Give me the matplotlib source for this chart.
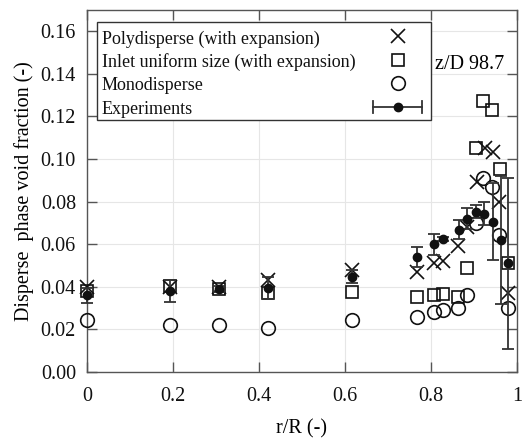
import matplotlib
matplotlib.use("Agg")
import matplotlib.pyplot as plt
from matplotlib.lines import Line2D
from matplotlib.patches import Rectangle

plt.rcParams['font.family'] = ['Liberation Serif', 'DejaVu Serif']

# Polydisperse model (with expansion)
r_poly = [0.0, 0.193, 0.307, 0.421, 0.616, 0.767, 0.807, 0.828, 0.863, 0.884,
          0.907, 0.926, 0.944, 0.957, 0.979]
alpha_poly = [0.040, 0.040, 0.040, 0.043, 0.048, 0.047, 0.051, 0.052, 0.059, 0.068,
              0.089, 0.105, 0.1035, 0.080, 0.037]

# Inlet uniform size (with expansion)
r_uni = [0.0, 0.193, 0.307, 0.421, 0.616, 0.767, 0.807, 0.828, 0.863, 0.884,
         0.905, 0.921, 0.942, 0.960, 0.979]
alpha_uni = [0.038, 0.0405, 0.039, 0.037, 0.0376, 0.0353, 0.036, 0.0367, 0.035, 0.049,
             0.105, 0.1275, 0.123, 0.0955, 0.051]

# Monodisperse model
r_mono = [0.0, 0.193, 0.307, 0.421, 0.616, 0.767, 0.807, 0.828, 0.863, 0.884,
          0.905, 0.921, 0.942, 0.958, 0.979]
alpha_mono = [0.0245, 0.022, 0.022, 0.0207, 0.0245, 0.026, 0.028, 0.029, 0.030, 0.036,
              0.070, 0.091, 0.087, 0.0645, 0.030]

# Experimental data with uncertainty
r_exp = [0.0, 0.193, 0.307, 0.421, 0.616, 0.767, 0.807, 0.828, 0.865, 0.884,
         0.905, 0.923, 0.944, 0.963, 0.979]
alpha_exp = [0.036, 0.038, 0.039, 0.0395, 0.0447, 0.054, 0.060, 0.0626, 0.0668, 0.072,
             0.0753, 0.0743, 0.0706, 0.062, 0.051]
err_exp = [0.0035, 0.005, 0.0015, 0.005, 0.003, 0.0045, 0.005, 0.001, 0.0045, 0.005,
           0.003, 0.0055, 0.018, 0.030, 0.040]

x_ticks = [0, 0.2, 0.4, 0.6, 0.8, 1]
x_ticklabels = ["0", "0.2", "0.4", "0.6", "0.8", "1"]
y_ticks = [0.00, 0.02, 0.04, 0.06, 0.08, 0.10, 0.12, 0.14, 0.16]

label_poly = "Polydisperse (with expansion)"
label_uni = "Inlet uniform size (with expansion)"
label_mono = "Monodisperse"
label_exp = "Experiments"
station_text = "z/D 98.7"

INK = '#111111'
BAR = '#333333'
FS = 14.5
LEG_FS = 13

W_PX, H_PX = 522, 446
AX_L, AX_R, AX_T, AX_B = 87, 517, 10, 372   # axes frame in pixels

fig = plt.figure(figsize=(W_PX / 100, H_PX / 100), dpi=100)
ax = fig.add_axes([AX_L / W_PX, 1 - AX_B / H_PX,
                   (AX_R - AX_L) / W_PX, (AX_B - AX_T) / H_PX])

ax.grid(True, color='#e6e6e6', lw=0.8, zorder=0)
ax.set_axisbelow(True)

cross_style = dict(ls='none', marker='x', ms=9.5, mew=1.2, color=INK)
square_style = dict(ls='none', marker='s', ms=9.2, mew=1.2, mfc='none', mec=INK)
circle_style = dict(ls='none', marker='o', ms=9.8, mew=1.2, mfc='none', mec=INK)
dot_style = dict(ls='none', marker='o', ms=6, color=INK)

ax.plot(r_poly, alpha_poly, clip_on=False, zorder=3, **cross_style)
ax.plot(r_uni, alpha_uni, clip_on=False, zorder=3, **square_style)
ax.plot(r_mono, alpha_mono, clip_on=False, zorder=3, **circle_style)
eb = ax.errorbar(r_exp, alpha_exp, yerr=err_exp, fmt='o', ms=6, color=INK,
                 ecolor=BAR, elinewidth=1.3, capsize=4, capthick=1.3,
                 clip_on=False, zorder=4)
for art in eb.lines[1] + eb.lines[2]:
    art.set_clip_on(False)

ax.set_xlim(0, 1)
ax.set_ylim(0, 0.17)
ax.set_xticks(x_ticks)
ax.set_xticklabels(x_ticklabels)
ax.set_yticks(y_ticks)
ax.set_yticklabels([f"{v:.2f}" for v in y_ticks])

ax.tick_params(direction='in', length=7, width=1, color='#555555',
               top=True, right=True, labelsize=FS, labelcolor='#111111')
ax.tick_params(axis='x', pad=11)
ax.tick_params(axis='y', pad=8)
for s in ax.spines.values():
    s.set_color('#555555')
    s.set_linewidth(1)

ax.set_xlabel("r/R (-)", fontsize=FS, labelpad=9)
ax.set_ylabel("Disperse  phase void fraction (-)", fontsize=FS, labelpad=5)

ax.text(0.81, 0.1445, station_text, fontsize=FS, va='center', ha='left')


# ---- legend box: labels left-justified, samples in a right-hand column ----
def fx(px):
    return (px - AX_L) / (AX_R - AX_L)


def fy(py):
    return (AX_B - py) / (AX_B - AX_T)


T = ax.transAxes
box_l, box_r, box_t, box_b = 97, 431, 22, 120
ax.add_patch(Rectangle((fx(box_l), fy(box_b)), fx(box_r) - fx(box_l),
                       fy(box_t) - fy(box_b), transform=T, facecolor='white',
                       edgecolor='#333333', lw=1, zorder=5, clip_on=False))

labels = [label_poly, label_uni, label_mono, label_exp]
baselines = [43.5, 67, 90.5, 114]
text_x = 102
sample_x = 398
sample_dy = 7.5

for lab, base in zip(labels, baselines):
    ax.text(fx(text_x), fy(base), lab, transform=T, fontsize=LEG_FS,
            ha='left', va='baseline', color='#111111', zorder=6)

for style, base in zip([cross_style, square_style, circle_style],
                       baselines[:3]):
    ax.add_line(Line2D([fx(sample_x)], [fy(base - sample_dy)], transform=T,
                       zorder=6, clip_on=False, **style))

# errorbar sample |--o--|
ey = base_e = baselines[3] - sample_dy
e_l, e_r, cap = 373, 422, 6
ax.add_line(Line2D([fx(e_l), fx(e_r)], [fy(ey), fy(ey)], transform=T,
                   color=BAR, lw=1.3, zorder=6, clip_on=False))
for xe in (e_l, e_r):
    ax.add_line(Line2D([fx(xe), fx(xe)], [fy(ey - cap), fy(ey + cap)],
                       transform=T, color=BAR, lw=1.3, zorder=6, clip_on=False))
ax.add_line(Line2D([fx(sample_x)], [fy(ey)], transform=T, zorder=6,
                   clip_on=False, **dot_style))

fig.savefig("out.png", dpi=100)
